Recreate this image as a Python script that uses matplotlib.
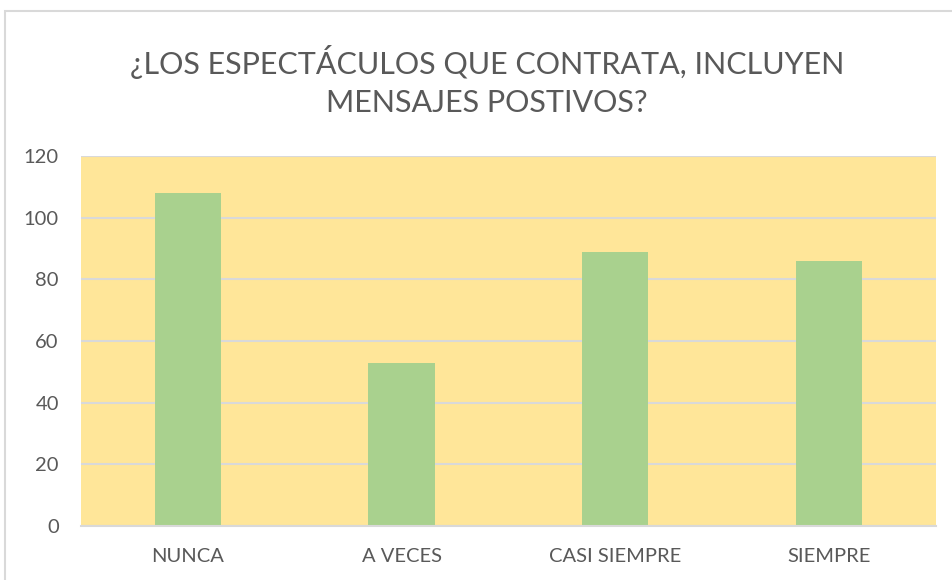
import matplotlib.pyplot as plt
from matplotlib.patches import Rectangle

# data
categorias = ["NUNCA", "A VECES", "CASI SIEMPRE", "SIEMPRE"]
respuestas = [108, 53, 89, 86]
titulo = "¿LOS ESPECTÁCULOS QUE CONTRATA, INCLUYEN\nMENSAJES POSTIVOS?"

plt.rcParams["font.family"] = ["Lato", "DejaVu Sans"]

fig = plt.figure(figsize=(9.53, 5.8), dpi=100)
ax = fig.add_axes([0.085, 0.093, 0.897, 0.638])

ax.set_facecolor("#FFE699")
ax.bar(range(len(categorias)), respuestas, width=0.31, color="#A9D18E", zorder=3)

ax.set_ylim(0, 120)
ax.set_xlim(-0.5, len(categorias) - 0.5)
ax.set_yticks(range(0, 121, 20))
ax.set_xticks(range(len(categorias)))
ax.set_xticklabels(categorias)
ax.grid(axis="y", color="#D9D9D9", linewidth=1.5, zorder=0)

for side in ["top", "right", "left"]:
    ax.spines[side].set_visible(False)
ax.spines["bottom"].set_color("#D9D9D9")
ax.spines["bottom"].set_linewidth(1.5)
ax.spines["bottom"].set_zorder(4)

ax.tick_params(axis="both", length=0, labelsize=14.5, labelcolor="#595959")
ax.tick_params(axis="y", pad=16)
ax.tick_params(axis="x", pad=16)

fig.text(0.511, 0.86, titulo, ha="center", va="center", fontsize=22,
         color="#595959", linespacing=1.45)

# outer chart border
fig.patches.append(Rectangle((5 / 953, -0.1), 1.2, 1 - 11 / 580 + 0.1,
                             transform=fig.transFigure, fill=False,
                             edgecolor="#D9D9D9", linewidth=1.5))

plt.savefig("out.png", dpi=100)
